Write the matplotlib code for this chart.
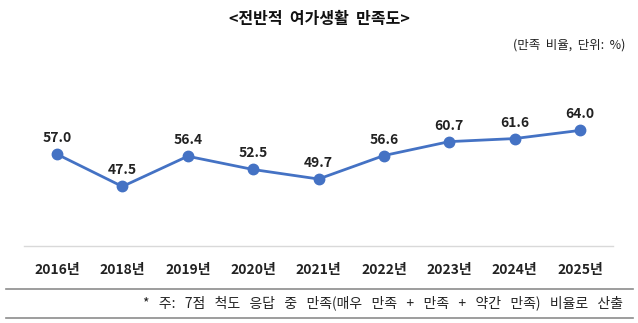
import matplotlib.pyplot as plt
from matplotlib.lines import Line2D

plt.rcParams['font.family'] = ['Noto Sans CJK KR', 'DejaVu Sans']

years = ['2016년', '2018년', '2019년', '2020년', '2021년',
         '2022년', '2023년', '2024년', '2025년']
values = [57.0, 47.5, 56.4, 52.5, 49.7, 56.6, 60.7, 61.6, 64.0]

W, H = 638, 323
fig = plt.figure(figsize=(W / 100, H / 100), dpi=100)


def wide(s, n):
    # в оригинале пробелы шире, чем в Noto
    return s.replace(' ', ' ' * n)


# --- область графика в пикселях ---
left, right, top, bottom = 24.3, 612.7, 110, 246
ax = fig.add_axes([left / W, 1 - bottom / H, (right - left) / W, (bottom - top) / H])
x = list(range(len(values)))
ax.plot(x, values, color='#4472C4', linewidth=2, marker='o', markersize=7.5,
        clip_on=False)
for xi, v in zip(x, values):
    ax.annotate(f'{v:.1f}', (xi, v), xytext=(0, 6.5), textcoords='offset points',
                ha='center', va='bottom', fontsize=10, fontweight='bold',
                color='#222222')

ax.set_xlim(-0.5, len(values) - 0.5)
ax.set_ylim(30, 70)
ax.set_yticks([])
ax.set_xticks(x)
ax.set_xticklabels(years, fontsize=10, fontweight='bold', color='#222222')
ax.tick_params(axis='x', length=0, pad=12)
for s in ['top', 'left', 'right']:
    ax.spines[s].set_visible(False)
ax.spines['bottom'].set_color('#d9d9d9')
ax.spines['bottom'].set_linewidth(1)

# --- заголовок и подписи ---
fig.text(0.5, 1 - 19 / H, wide('<전반적 여가생활 만족도>', 2), ha='center',
         va='center', fontsize=11.5, fontweight='bold', color='#111111')
fig.text(625 / W, 1 - 45 / H, wide('(만족 비율, 단위: %)', 2), ha='right',
         va='center', fontsize=9, color='#222222')
fig.text(623 / W, 1 - 303 / H,
         wide('* 주: 7점 척도 응답 중 만족(매우 만족 + 만족 + 약간 만족) 비율로 산출', 3),
         ha='right', va='center', fontsize=10, color='#222222')

for yy in [289, 318]:
    fig.add_artist(Line2D([6 / W, 633 / W], [1 - yy / H, 1 - yy / H],
                          color='#8c8c8c', linewidth=1.2))

fig.savefig('out.png', dpi=100)
